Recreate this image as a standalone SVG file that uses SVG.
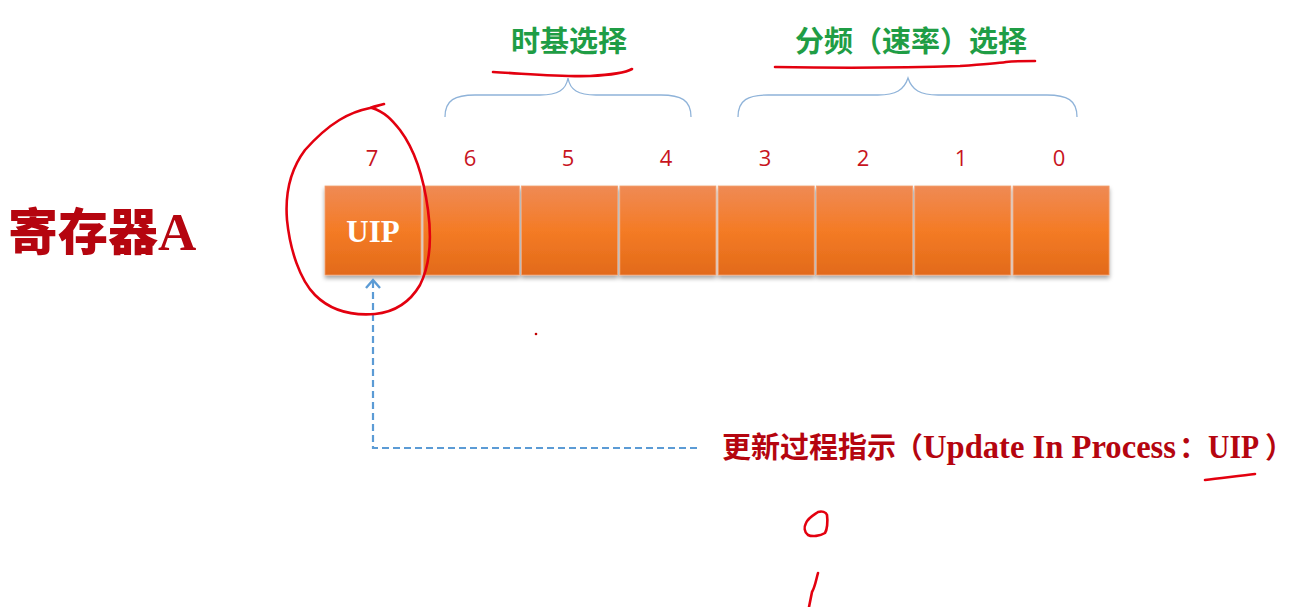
<svg xmlns="http://www.w3.org/2000/svg" width="1295" height="607" viewBox="0 0 1295 607">
<style>
.num{font-family:"Open Sans","Liberation Sans",sans-serif;font-size:22px;fill:#c8141e;text-anchor:middle}
.green{font-family:"Noto Sans CJK SC",sans-serif;font-weight:bold;font-size:29px;fill:#1f9d45;text-anchor:middle}
.ink{fill:none;stroke:#e3000f;stroke-width:2.6;stroke-linecap:round;stroke-linejoin:round}
.brace{fill:none;stroke:#8fb3d9;stroke-width:1.3}
.cell{fill:url(#og);stroke:#f2a070;stroke-width:0.8}
.cjk{font-family:"Noto Sans CJK SC",sans-serif;font-weight:bold;font-size:29px}
.lat{font-family:"Liberation Serif",serif;font-weight:bold;font-size:33px}
</style>
<defs>
<linearGradient id="og" x1="0" y1="0" x2="0" y2="1">
<stop offset="0" stop-color="#ef8a55"/>
<stop offset="0.5" stop-color="#f47b25"/>
<stop offset="1" stop-color="#e26a1a"/>
</linearGradient>
<filter id="sh" x="-10%" y="-10%" width="120%" height="130%">
<feDropShadow dx="0" dy="3" stdDeviation="2" flood-color="#000" flood-opacity="0.35"/>
</filter>
<marker id="arr" markerWidth="18" markerHeight="18" refX="12" refY="9" orient="auto" markerUnits="userSpaceOnUse" viewBox="0 0 18 18">
<path d="M4,2 L12,9 L4,16" fill="none" stroke="#5b9bd5" stroke-width="2.4"/>
</marker>
</defs>
<rect width="1295" height="607" fill="#ffffff"/>

<g id="title">
<text x="8" y="250" font-family="Noto Sans CJK SC,sans-serif" font-weight="900" font-size="50" fill="#b5050f">寄存器<tspan font-family="Liberation Serif,serif" font-weight="bold" font-size="53">A</tspan></text>
</g>

<g id="register" filter="url(#sh)">
<rect class="cell" x="325" y="186" width="96" height="89"/>
<rect class="cell" x="423.3" y="186" width="96" height="89"/>
<rect class="cell" x="521.6" y="186" width="96" height="89"/>
<rect class="cell" x="619.9" y="186" width="96" height="89"/>
<rect class="cell" x="718.2" y="186" width="96" height="89"/>
<rect class="cell" x="816.5" y="186" width="96" height="89"/>
<rect class="cell" x="914.8" y="186" width="96" height="89"/>
<rect class="cell" x="1013.1" y="186" width="96" height="89"/>
</g>
<g id="uip-cell-label">
<text x="373" y="242" font-family="Liberation Serif,serif" font-weight="bold" font-size="31" fill="#ffffff" text-anchor="middle">UIP</text>
</g>

<g id="bit-numbers">
<text class="num" x="372" y="166">7</text>
<text class="num" x="470" y="166">6</text>
<text class="num" x="568" y="166">5</text>
<text class="num" x="666" y="166">4</text>
<text class="num" x="765" y="166">3</text>
<text class="num" x="863" y="166">2</text>
<text class="num" x="961" y="166">1</text>
<text class="num" x="1059" y="166">0</text>
</g>

<g id="brace-timebase">
<path class="brace" d="M445,117 C445,100 455,95 475,95 L540,95 C558,95 566,90 568,78 C570,90 578,95 596,95 L661,95 C681,95 691,100 691,117"/>
<text class="green" x="569" y="52">时基选择</text>
</g>
<g id="brace-divider">
<path class="brace" d="M738,117 C738,100 748,95 768,95 L878,95 C896,95 904,90 908,78 C912,90 920,95 938,95 L1047,95 C1067,95 1077,100 1077,117"/>
<text class="green" x="911" y="52">分频（速率）选择</text>
</g>

<g id="connectors">
<path d="M697,448 L373,448 L373,280" fill="none" stroke="#5b9bd5" stroke-width="2.2" stroke-dasharray="7,4" marker-end="url(#arr)"/>
</g>

<g id="uip-label" fill="#b5050f">
<text y="458"><tspan class="cjk" x="722">更新过程指示</tspan><tspan class="cjk" x="894">（</tspan><tspan class="lat" x="923" textLength="253" lengthAdjust="spacingAndGlyphs">Update In Process</tspan><tspan class="cjk" x="1179">：</tspan><tspan class="lat" x="1208" textLength="51" lengthAdjust="spacingAndGlyphs">UIP</tspan><tspan class="cjk" x="1265">）</tspan></text>
</g>

<g id="annotations">
<path class="ink" d="M493,72 C530,74 560,77 590,76 C610,75 625,73 632,69"/>
<path class="ink" d="M775,67 C830,68 900,68 960,66 C990,64 1000,63 1006,62 C1015,61 1025,61 1035,61"/>
<path class="ink" d="M1205,480 C1220,478 1240,476 1255,474"/>
<path class="ink" d="M380,105 C375,106 372,107 370,108 C350,112 330,122 305,150 C290,170 285,195 287,220 C290,250 300,280 315,295 C330,310 350,316 375,314 C395,312 410,302 420,285 C430,265 432,240 428,210 C424,180 415,150 400,130 C392,120 385,112 372,108 C376,106 380,105 384,104"/>
<path class="ink" d="M806,523 C808,518 812,516 818,512 C822,511 826,512 827,515 C828,522 827,530 825,533 C820,536 812,537 808,535 C804,532 804,527 806,523 Z"/>
<path class="ink" d="M818,573 C816,580 815,587 812,592 C811,597 810,602 809,607"/>
<circle cx="536" cy="334" r="1.3" fill="#c00000"/>
</g>
</svg>
